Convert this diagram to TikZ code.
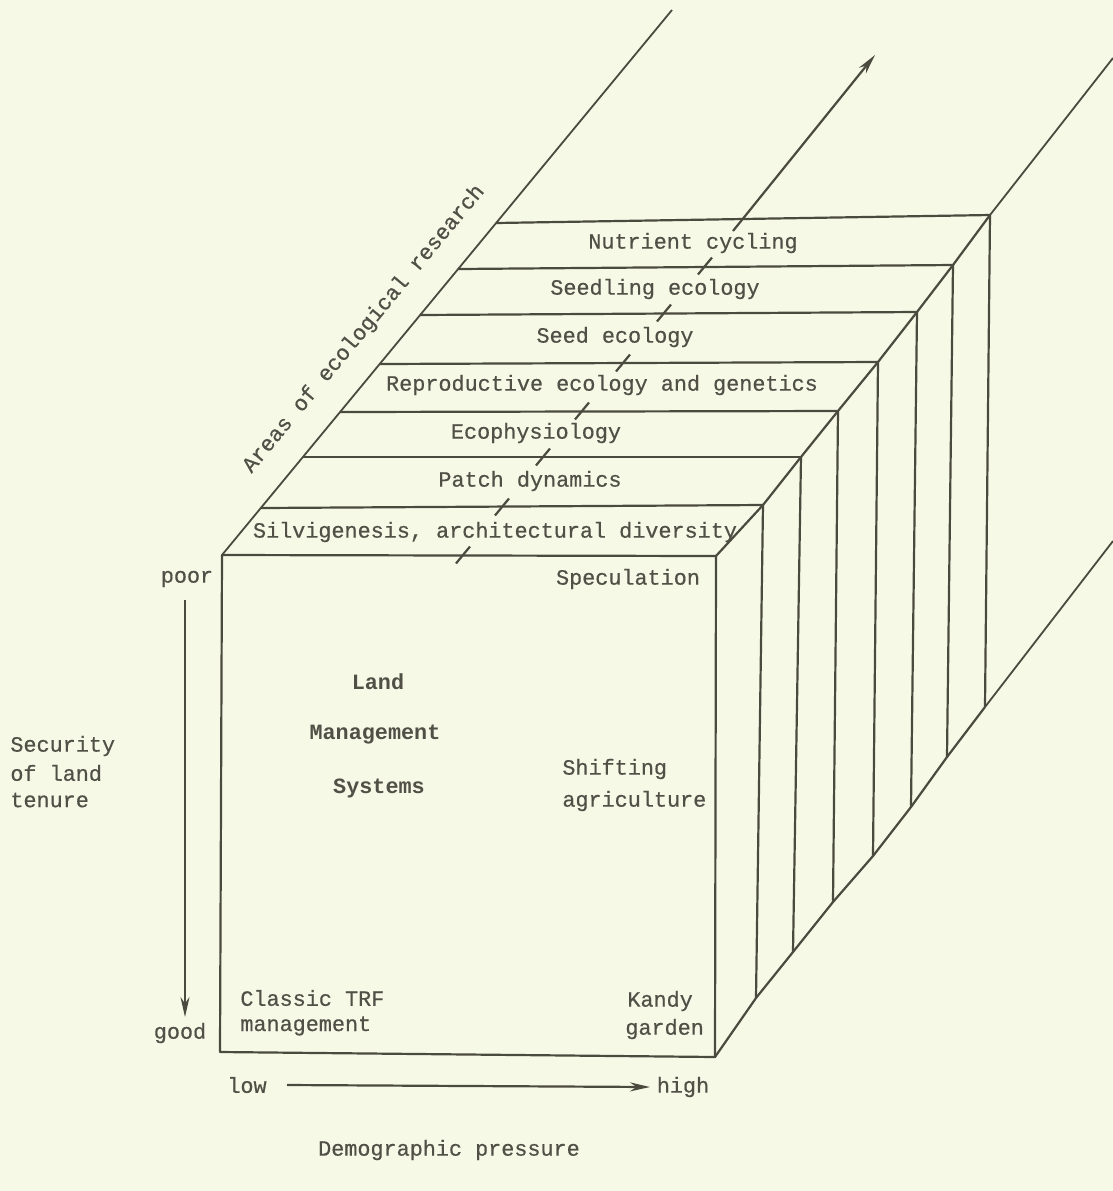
\documentclass[tikz,border=0pt]{standalone}
\usepackage{fontspec}
\setmainfont{Liberation Mono}[FakeBold=0.5]
\newfontfamily\twbold{Liberation Mono Bold}
\usetikzlibrary{arrows.meta,calc}
\definecolor{bg}{HTML}{F7F9E7}
\definecolor{ink}{HTML}{4A4A3E}
\definecolor{textink}{HTML}{505046}
\begin{document}
\begin{tikzpicture}[x=0.5pt,y=-0.5pt,
  edge/.style={draw=ink,line width=1.1pt,line join=round},
  thin/.style={draw=ink,line width=0.9pt},
  lbl/.style={text=textink,inner sep=0pt,font=\fontsize{10.9}{13}\selectfont},
  blbl/.style={lbl,font=\fontsize{10.9}{13}\selectfont\twbold},
  tickmark/.style={draw=ink,line width=1.1pt},
  arr/.style={draw=ink,line width=1.1pt,-{Stealth[length=10pt,width=4.5pt]}}]
\fill[bg] (0,0) rectangle (1113,1191);
\useasboundingbox (0,0) rectangle (1113,1191);
% front face corners
\coordinate (FTL) at (222,555);
\coordinate (FTR) at (716,556);
\coordinate (FBL) at (220,1052);
\coordinate (FBR) at (715,1057);
% left ends of slab lines
\coordinate (L1) at (261,508);
\coordinate (L2) at (303,457);
\coordinate (L3) at (340,412);
\coordinate (L4) at (380,364);
\coordinate (L5) at (420,315);
\coordinate (L6) at (458,269);
\coordinate (L7) at (496,223);
\coordinate (LTop) at (672,10);
% right ends
\coordinate (R1) at (763,505);
\coordinate (R2) at (801,457);
\coordinate (R3) at (838,411);
\coordinate (R4) at (878,362);
\coordinate (R5) at (917,312);
\coordinate (R6) at (953,265);
\coordinate (R7) at (990,215);
\coordinate (REnd) at (1113,58);
% bottoms of verticals
\coordinate (B1) at (756,998);
\coordinate (B2) at (793,952);
\coordinate (B3) at (833,902);
\coordinate (B4) at (873,856);
\coordinate (B5) at (911,807);
\coordinate (B6) at (947,757);
\coordinate (B7) at (985,707);
\coordinate (BEnd) at (1113,541);
% front face
\draw[edge] (FTL) -- (FTR) -- (FBR) -- (FBL) -- cycle;
% left long edge
\draw[thin] (FTL) -- (LTop);
% slab lines
\foreach \i in {1,...,7} {
  \draw[edge] (L\i) -- (R\i);
  \draw[edge] (R\i) -- (B\i);
}
% right top diagonal
\draw[edge] (FTR) -- (R1) -- (R2) -- (R3) -- (R4) -- (R5) -- (R6) -- (R7);
\draw[thin] (R7) -- (REnd);
% bottom diagonal
\draw[edge] (FBR) -- (B1) -- (B2) -- (B3) -- (B4) -- (B5) -- (B6) -- (B7);
\draw[thin] (B7) -- (BEnd);
% hidden axis ticks
\foreach \n/\p in {0/{463,555},1/{502,507},2/{543,457},3/{582,411},4/{623,363},5/{664,313},6/{705,266}} {
  \coordinate (T\n) at (\p);
  \draw[tickmark] ($(T\n)+(-7,8.5)$) -- ($(T\n)+(7,-8.5)$);
}
\coordinate (AS) at (733,231);
\coordinate (AE) at (875,55);
\draw[arr] (AS) -- (AE);
% slab labels
\node[lbl] (n7) at (693,243) {Nutrient cycling};
\node[lbl] (n6) at (655,289) {Seedling ecology};
\node[lbl] (n5) at (615,337) {Seed ecology};
\node[lbl] (n4) at (602,385) {Reproductive ecology and genetics};
\node[lbl] (n3) at (536,433) {Ecophysiology};
\node[lbl] (n2) at (530,481) {Patch dynamics};
\node[lbl] (n1) at (495,532) {Silvigenesis, architectural diversity};
% axis label on top-left edge
\node[lbl,rotate=50.4] (areas) at (364,329) {Areas of ecological research};
% front face texts
\node[lbl] (spec) at (628,579) {Speculation};
\node[blbl] (land) at (378,682) {Land};
\node[blbl] (mgmt) at (375,735) {Management};
\node[blbl] (sys) at (379,788) {Systems};
\node[lbl,anchor=west] (shift) at (562,769) {Shifting};
\node[lbl,anchor=west] (agri) at (562,801) {agriculture};
\node[lbl,anchor=west] (classic) at (240,998) {Classic TRF};
\node[lbl,anchor=west] (mgmt2) at (240,1026) {management};
\node[lbl,anchor=west] (kandy) at (627,1001) {Kandy};
\node[lbl,anchor=west] (garden) at (625,1029) {garden};
% left axis
\node[lbl] (poor) at (187,579) {poor};
\node[lbl] (good) at (180,1033) {good};
\draw[arr] (185,600) -- (185,1017);
\node[lbl,anchor=west] (sec1) at (10,746) {Security};
\node[lbl,anchor=west] (sec2) at (10,773) {of land};
\node[lbl,anchor=west] (sec3) at (10,800) {tenure};
% bottom axis
\node[lbl] (low) at (247,1085) {low};
\node[lbl] (high) at (683,1087) {high};
\coordinate (lowR) at (287,1085);
\coordinate (highL) at (650,1087);
\draw[arr] (lowR) -- (highL);
\node[lbl] (demo) at (449,1150) {Demographic pressure};
\end{tikzpicture}
\end{document}
